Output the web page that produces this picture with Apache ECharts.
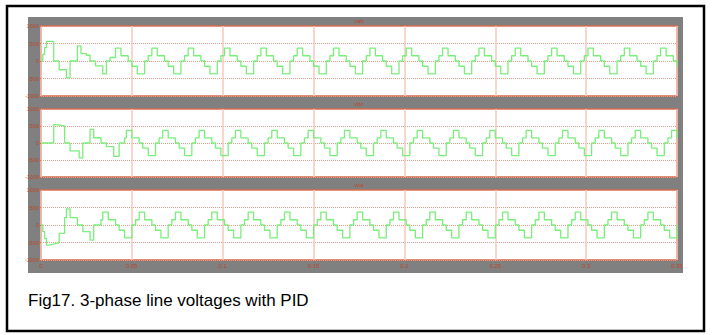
<!DOCTYPE html>
<html>
<head>
<meta charset="utf-8">
<script src="https://cdn.jsdelivr.net/npm/echarts@6/dist/echarts.min.js"></script>
<style>
html,body{margin:0;padding:0;background:#fff;}
#chart{width:712px;height:335px;}
</style>
</head>
<body>
<div id="chart"></div>
<script>
// ---- data (sample step 1 ms) ----
const sampleStep = 0.001;
const titles = ['vab', 'vbc', 'vca'];
const caption = 'Fig17. 3-phase line voltages with PID';

const vab = [
  0,190,380,560,560,560,550,0,0,0,
  -250,-250,-250,-250,-480,-480,0,0,0,0,
  430,430,210,210,210,165,165,0,0,0,
  -140,-140,-140,-140,-370,-370,0,0,100,100,
  100,
  370,370,370,150,150,150,150,0,0,-150,-150,-150,-370,-370,-370,-370,0,0,150,150,
  370,370,370,150,150,150,150,0,0,-150,-150,-150,-370,-370,-370,-370,0,0,150,150,
  370,370,370,150,150,150,150,0,0,-150,-150,-150,-370,-370,-370,-370,0,0,150,150,
  370,370,370,150,150,150,150,0,0,-150,-150,-150,-370,-370,-370,-370,0,0,150,150,
  370,370,370,150,150,150,150,0,0,-150,-150,-150,-370,-370,-370,-370,0,0,150,150,
  370,370,370,150,150,150,150,0,0,-150,-150,-150,-370,-370,-370,-370,0,0,150,150,
  370,370,370,150,150,150,150,0,0,-150,-150,-150,-370,-370,-370,-370,0,0,150,150,
  370,370,370,150,150,150,150,0,0,-150,-150,-150,-370,-370,-370,-370,0,0,150,150,
  370,370,370,150,150,150,150,0,0,-150,-150,-150,-370,-370,-370,-370,0,0,150,150,
  370,370,370,150,150,150,150,0,0,-150,-150,-150,-370,-370,-370,-370,0,0,150,150,
  370,370,370,150,150,150,150,0,0,-150,-150,-150,-370,-370,-370,-370,0,0,150,150,
  370,370,370,150,150,150,150,0,0,-150,-150,-150,-370,-370,-370,-370,0,0,150,150,
  370,370,370,150,150,150,150,0,0,-150,-150,-150,-370,-370,-370,-370,0,0,150,150,
  370,370,370,150,150,150,150,0,0,-150,-150,-150,-370,-370,-370,-370,0,0,150,150,
  370,370,370,150,150,150,150,0,0,-150,-150,-150,-370,-370,-370,-370,0,0,150,150,
  370,370,370,150,150,150,150,0,0,-150
];

const vbc = [
  0,0,0,0,0,0,0,540,535,530,
  520,510,500,0,0,0,-230,-230,-230,-230,
  -230,-440,-440,0,0,0,0,400,400,155,
  155,155,155,0,0,0,-105,-105,-105,-105,
  -395,-395,-395,0,0,0,150,
  370,370,370,150,150,150,150,0,0,-150,-150,-150,-370,-370,-370,-370,0,0,150,150,
  370,370,370,150,150,150,150,0,0,-150,-150,-150,-370,-370,-370,-370,0,0,150,150,
  370,370,370,150,150,150,150,0,0,-150,-150,-150,-370,-370,-370,-370,0,0,150,150,
  370,370,370,150,150,150,150,0,0,-150,-150,-150,-370,-370,-370,-370,0,0,150,150,
  370,370,370,150,150,150,150,0,0,-150,-150,-150,-370,-370,-370,-370,0,0,150,150,
  370,370,370,150,150,150,150,0,0,-150,-150,-150,-370,-370,-370,-370,0,0,150,150,
  370,370,370,150,150,150,150,0,0,-150,-150,-150,-370,-370,-370,-370,0,0,150,150,
  370,370,370,150,150,150,150,0,0,-150,-150,-150,-370,-370,-370,-370,0,0,150,150,
  370,370,370,150,150,150,150,0,0,-150,-150,-150,-370,-370,-370,-370,0,0,150,150,
  370,370,370,150,150,150,150,0,0,-150,-150,-150,-370,-370,-370,-370,0,0,150,150,
  370,370,370,150,150,150,150,0,0,-150,-150,-150,-370,-370,-370,-370,0,0,150,150,
  370,370,370,150,150,150,150,0,0,-150,-150,-150,-370,-370,-370,-370,0,0,150,150,
  370,370,370,150,150,150,150,0,0,-150,-150,-150,-370,-370,-370,-370,0,0,150,150,
  370,370,370,150,150,150,150,0,0,-150,-150,-150,-370,-370,-370,-370,0,0,150,150,
  370,370,370,150,150,150,150,0,0,-150,-150,-150,-370,-370,-370,-370,0,0,150,150,
  370,370,370,150
];

const vca = [
  0,-190,-380,-575,-565,-555,-545,-530,-520,-505,
  -240,-240,-240,210,460,460,210,210,210,210,
  0,0,0,-190,-190,-190,-190,-430,-430,0,
  0,0,0,150,
  370,370,370,150,150,150,150,0,0,-150,-150,-150,-370,-370,-370,-370,0,0,150,150,
  370,370,370,150,150,150,150,0,0,-150,-150,-150,-370,-370,-370,-370,0,0,150,150,
  370,370,370,150,150,150,150,0,0,-150,-150,-150,-370,-370,-370,-370,0,0,150,150,
  370,370,370,150,150,150,150,0,0,-150,-150,-150,-370,-370,-370,-370,0,0,150,150,
  370,370,370,150,150,150,150,0,0,-150,-150,-150,-370,-370,-370,-370,0,0,150,150,
  370,370,370,150,150,150,150,0,0,-150,-150,-150,-370,-370,-370,-370,0,0,150,150,
  370,370,370,150,150,150,150,0,0,-150,-150,-150,-370,-370,-370,-370,0,0,150,150,
  370,370,370,150,150,150,150,0,0,-150,-150,-150,-370,-370,-370,-370,0,0,150,150,
  370,370,370,150,150,150,150,0,0,-150,-150,-150,-370,-370,-370,-370,0,0,150,150,
  370,370,370,150,150,150,150,0,0,-150,-150,-150,-370,-370,-370,-370,0,0,150,150,
  370,370,370,150,150,150,150,0,0,-150,-150,-150,-370,-370,-370,-370,0,0,150,150,
  370,370,370,150,150,150,150,0,0,-150,-150,-150,-370,-370,-370,-370,0,0,150,150,
  370,370,370,150,150,150,150,0,0,-150,-150,-150,-370,-370,-370,-370,0,0,150,150,
  370,370,370,150,150,150,150,0,0,-150,-150,-150,-370,-370,-370,-370,0,0,150,150,
  370,370,370,150,150,150,150,0,0,-150,-150,-150,-370,-370,-370,-370,0,0,150,150,
  370,370,370,150,150,150,150,0,0,-150,-150,-150,-370,-370,-370,-370,0
];

const seriesValues = [vab, vbc, vca];

// ---- layout / style ----
const gridTops = [26, 109, 190];
const gridHeights = [70, 68, 70];
const plotLeft = 41, plotWidth = 636;
const axisRed = '#d56a4c';
const labelRed = '#b8482a';

const chart = echarts.init(document.getElementById('chart'), null, {renderer: 'svg'});

const grids = [], xAxes = [], yAxes = [], series = [], titleOpts = [];
for (let k = 0; k < 3; k++) {
  grids.push({
    left: plotLeft, top: gridTops[k], width: plotWidth, height: gridHeights[k],
    show: true, backgroundColor: '#ffffff', borderColor: axisRed, borderWidth: 1.5
  });
  xAxes.push({
    type: 'value', gridIndex: k, min: 0, max: 0.35, interval: 0.05,
    axisLine: {show: false},
    axisTick: {show: false},
    axisLabel: {show: k === 2, fontSize: 6, color: labelRed, margin: 3,
      fontFamily: 'Liberation Sans', showMaxLabel: true, showMinLabel: true,
      formatter: v => String(+v.toFixed(2))},
    splitLine: {show: true, lineStyle: {color: '#f6c8bd', width: 1.5}}
  });
  yAxes.push({
    type: 'value', gridIndex: k, min: -1000, max: 1000, interval: 500,
    axisLine: {show: false},
    axisTick: {show: true, length: 2, lineStyle: {color: axisRed}},
    axisLabel: {fontSize: 5.5, color: labelRed, margin: 2, fontFamily: 'Liberation Sans',
      formatter: v => String(v)},
    splitLine: {show: true, lineStyle: {color: '#eb9a88', type: 'dotted', width: 1}}
  });
  series.push({
    type: 'line', xAxisIndex: k, yAxisIndex: k, step: 'end',
    showSymbol: false, symbol: 'none', animation: false, clip: true,
    lineStyle: {color: '#7aee7a', width: 1.3},
    data: seriesValues[k].map((v, i) => [i * sampleStep, v])
  });
  titleOpts.push({
    text: titles[k], left: plotLeft + plotWidth / 2, top: gridTops[k] - 8,
    textAlign: 'center', padding: 0,
    textStyle: {fontSize: 6, color: labelRed, fontWeight: 'normal', fontFamily: 'Liberation Sans'}
  });
}

chart.setOption({
  backgroundColor: '#ffffff',
  animation: false,
  title: titleOpts,
  grid: grids,
  xAxis: xAxes,
  yAxis: yAxes,
  series: series,
  graphic: [
    {type: 'rect', z: -1, silent: true,
     shape: {x: 28, y: 17, width: 655, height: 256},
     style: {fill: '#808080'}},
    {type: 'rect', z: 100, silent: true,
     shape: {x: 7, y: 6, width: 697, height: 325},
     style: {fill: 'none', stroke: '#000', lineWidth: 2.5}},
    {type: 'text', z: 100, silent: true, left: 28, top: 292,
     style: {text: caption, font: '17px "Liberation Sans", Arial, sans-serif', fill: '#000'}}
  ]
});
</script>
</body>
</html>
